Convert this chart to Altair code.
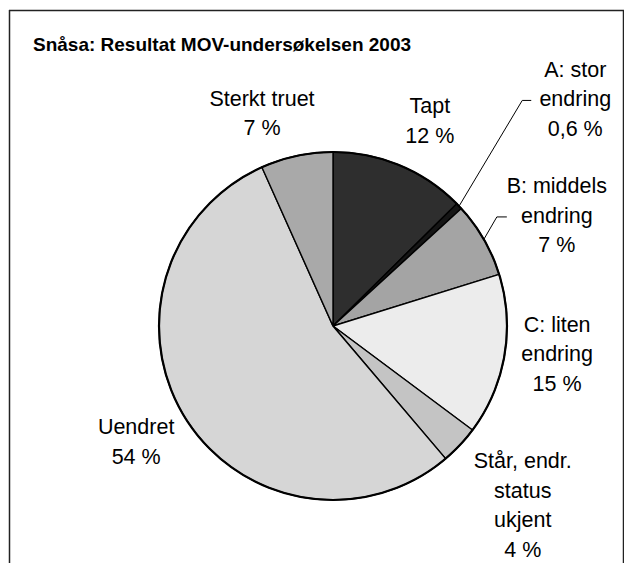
import math
import altair as alt
import pandas as pd

# ---- data ----
categories = ["Tapt", "A: stor endring", "B: middels endring", "C: liten endring",
              "Står, endr. status ukjent", "Uendret", "Sterkt truet"]
values = [12.6, 0.6, 7.0, 15.0, 3.6, 54.5, 6.7]
label_text = ["Tapt\n12 %", "A: stor\nendring\n0,6 %", "B: middels\nendring\n7 %",
              "C: liten\nendring\n15 %", "Står, endr.\nstatus\nukjent\n4 %",
              "Uendret\n54 %", "Sterkt truet\n7 %"]
fills = ["#2e2e2e", "#151515", "#a4a4a4", "#ececec", "#c4c4c4", "#d6d6d6", "#a9a9a9"]
title_text = "Snåsa: Resultat MOV-undersøkelsen 2003"

# ---- layout ----
W, H = 615, 553
CX, CY, R = 324, 316, 174
FONT = "Liberation Sans"
FS, LH = 21.5, 29.5
label_radius = [226, 331, 249, 226, 262, 229, 223]
label_turn_deg = [2.7, 0.6, 3.9, -2.3, 0.4, 1.5, -6.5]

total = sum(values)
cum = 0.0
mids = []
for v in values:
    mids.append((cum + v / 2) / total * 2 * math.pi)
    cum += v

df = pd.DataFrame({"cat": categories, "value": values, "order": list(range(len(values))),
                   "fill": fills})

# label block centres from slice middle angle, first line shifted up so the block is centred
lab_rows = []
for i, txt in enumerate(label_text):
    a = mids[i] + math.radians(label_turn_deg[i])
    cx = CX + label_radius[i] * math.sin(a)
    cy = CY - label_radius[i] * math.cos(a)
    n = txt.count("\n") + 1
    lab_rows.append({"cat": categories[i], "text": txt, "cx": cx, "cy": cy,
                     "lx": cx, "ly": cy - (n - 1) * LH / 2})
lab = pd.DataFrame(lab_rows)

# leader lines for A and B (from pie edge at slice middle to label)
lead_rows = []
for idx, (elbow_dx, tail_dx) in {1: (53, 44), 2: (60, 50)}.items():
    a = mids[idx]
    lx, ly = lab.loc[idx, "cx"], lab.loc[idx, "cy"]
    pts = [(CX + R * math.sin(a), CY - R * math.cos(a)), (lx - elbow_dx, ly), (lx - tail_dx, ly)]
    for k, (px, py) in enumerate(pts):
        lead_rows.append({"line": categories[idx], "k": k, "px": px, "py": py})
leads = pd.DataFrame(lead_rows)

pie = alt.Chart(df).mark_arc(radius=R, stroke="black", strokeWidth=1.4).encode(
    theta=alt.Theta("value:Q", stack=True),
    order=alt.Order("order:Q"),
    color=alt.Color("fill:N", scale=None),
    x=alt.value(CX), y=alt.value(CY),
)

outline = alt.Chart(pd.DataFrame({"c": [0]})).mark_point(
    shape="circle", size=(2 * R) ** 2, filled=False, stroke="black", strokeWidth=2.2, opacity=1
).encode(x=alt.value(CX), y=alt.value(CY))

labels = alt.Chart(lab).mark_text(
    font=FONT, fontSize=FS, lineBreak="\n", lineHeight=LH, align="center",
    baseline="middle", color="black"
).encode(
    x=alt.X("lx:Q", scale=None),
    y=alt.Y("ly:Q", scale=None),
    text="text:N",
)

lead_lines = alt.Chart(leads).mark_line(color="black", strokeWidth=1).encode(
    x=alt.X("px:Q", scale=None),
    y=alt.Y("py:Q", scale=None),
    detail="line:N",
    order="k:Q",
)

frame_left = alt.Chart(pd.DataFrame({"c": [0]})).mark_rule(color="#222", strokeWidth=1.5).encode(
    x=alt.value(0.5), y=alt.value(0), y2=alt.value(H))
frame_right = alt.Chart(pd.DataFrame({"c": [0]})).mark_rule(color="#222", strokeWidth=1.5).encode(
    x=alt.value(W - 0.5), y=alt.value(0), y2=alt.value(H))
frame_top = alt.Chart(pd.DataFrame({"c": [0]})).mark_rule(color="#222", strokeWidth=1.5).encode(
    x=alt.value(0), x2=alt.value(W), y=alt.value(0.5))

title = alt.Chart(pd.DataFrame({"t": [title_text]})).mark_text(
    font=FONT, fontSize=19, fontWeight="bold", align="left", baseline="alphabetic", color="black"
).encode(text="t:N", x=alt.value(24), y=alt.value(41))

chart = alt.layer(
    pie, outline, lead_lines, labels, title, frame_left, frame_right, frame_top
).properties(
    width=W, height=H,
    autosize=alt.AutoSizeParams(type="none"),
    padding={"left": 1, "top": 2, "right": 0, "bottom": 0},
).configure_view(stroke=None)

chart.save("out.html", embed_options={"renderer": "svg", "actions": False})
